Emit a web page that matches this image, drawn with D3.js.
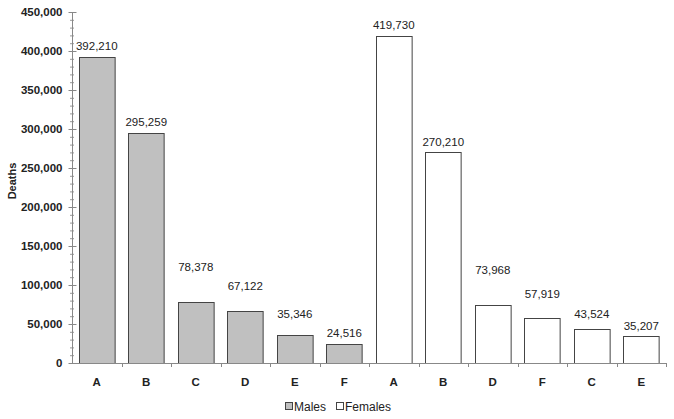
<!DOCTYPE html>
<html>
<head>
<meta charset="utf-8">
<script src="https://cdn.jsdelivr.net/npm/d3@7"></script>
<style>
  body { margin: 0; background: #fff; }
  text { font-family: "Liberation Sans", Arial, sans-serif; fill: #222; }
</style>
</head>
<body>
<div id="chart"></div>
<script>
// data
const categories = ['A', 'B', 'C', 'D', 'E', 'F', 'A', 'B', 'D', 'F', 'C', 'E'];
const groups = ['Males', 'Males', 'Males', 'Males', 'Males', 'Males',
                'Females', 'Females', 'Females', 'Females', 'Females', 'Females'];
const deaths = [392210, 295259, 78378, 67122, 35346, 24516,
                419730, 270210, 73968, 57919, 43524, 35207];
const yTicks = [0, 50000, 100000, 150000, 200000, 250000, 300000, 350000, 400000, 450000];
const legendItems = ['Males', 'Females'];

// label lift above bar tops (px), labels were hand placed in the original
const labelLift = [10.7, 10.6, 35.3, 25, 21, 11.3, 10.7, 10.7, 35.7, 24.3, 15.3, 10];

const W = 674, H = 419;
const margin = { left: 72, right: 8, top: 12, bottom: 56 };
const fill = { Males: '#c0c0c0', Females: '#ffffff' };

const svg = d3.select('#chart').append('svg')
  .attr('width', W).attr('height', H);

const rows = deaths.map((v, i) => ({ i, cat: categories[i], group: groups[i], v }));

const x = d3.scaleBand()
  .domain(d3.range(rows.length))
  .range([margin.left, 666])
  .paddingInner(0.28).paddingOuter(0.14);
const y = d3.scaleLinear().domain([0, 450000]).range([363, margin.top]);

// minor ticks on y axis
svg.append('g')
  .selectAll('line')
  .data(d3.range(0, 450001, 10000).filter(v => v % 50000))
  .enter().append('line')
  .attr('x1', 70).attr('x2', 74)
  .attr('y1', d => y(d) + 0.5).attr('y2', d => y(d) + 0.5)
  .style('stroke', '#999');

// y axis
const yAxis = svg.append('g')
  .attr('transform', 'translate(72.5,0)')
  .call(d3.axisLeft(y).tickValues(yTicks).tickSize(4).tickPadding(6)
    .tickFormat(d3.format(',')));
yAxis.select('.domain').attr('d', `M0,${y(450000)}V${y(0)}`).style('stroke', '#888');
yAxis.selectAll('.tick line').attr('x2', 4).attr('x1', -4).style('stroke', '#888');
yAxis.selectAll('.tick text')
  .style('font-size', '11.5px').style('font-weight', 'bold')
  .style('font-family', '"Liberation Sans", Arial, sans-serif').style('fill', '#222');

// bars
svg.append('g')
  .selectAll('rect')
  .data(rows)
  .enter().append('rect')
  .attr('x', d => Math.round(x(d.i)) + 0.5)
  .attr('y', d => Math.round(y(d.v)) + 0.5)
  .attr('width', x.bandwidth())
  .attr('height', d => y(0) - Math.round(y(d.v)))
  .style('fill', d => fill[d.group])
  .style('stroke', '#444')
  .style('stroke-width', 1);

// x axis baseline + ticks between categories
svg.append('line')
  .attr('x1', 72).attr('x2', 666)
  .attr('y1', 363.5).attr('y2', 363.5)
  .style('stroke', '#888');
const step = x.step();
svg.append('g')
  .selectAll('line')
  .data(d3.range(1, rows.length + 1))
  .enter().append('line')
  .attr('x1', d => Math.round(72 + d * step) + 0.5)
  .attr('x2', d => Math.round(72 + d * step) + 0.5)
  .attr('y1', 363).attr('y2', 367)
  .style('stroke', '#888');

// category labels
svg.append('g')
  .selectAll('text')
  .data(rows)
  .enter().append('text')
  .attr('x', d => x(d.i) + x.bandwidth() / 2)
  .attr('y', 386)
  .attr('text-anchor', 'middle')
  .style('font-size', '11.5px')
  .style('font-weight', 'bold')
  .text(d => d.cat);

// value labels
svg.append('g')
  .selectAll('text')
  .data(rows)
  .enter().append('text')
  .attr('x', d => x(d.i) + x.bandwidth() / 2)
  .attr('y', d => y(d.v) - labelLift[d.i])
  .attr('dy', '0.35em')
  .attr('text-anchor', 'middle')
  .style('font-size', '11.5px')
  .text(d => d3.format(',')(d.v));

// y title
svg.append('text')
  .attr('transform', 'translate(16,181) rotate(-90)')
  .attr('text-anchor', 'middle')
  .style('font-size', '11px')
  .style('font-weight', 'bold')
  .text('Deaths');

// legend
const lg = svg.append('g').attr('transform', 'translate(285,407)');
const lx = [0, 51];
legendItems.forEach((k, i) => {
  lg.append('rect')
    .attr('x', lx[i] + 0.5).attr('y', -4.5)
    .attr('width', 7).attr('height', 7)
    .style('fill', fill[k]).style('stroke', '#444');
  lg.append('text')
    .attr('x', lx[i] + 9).attr('y', 0)
    .attr('dy', '0.35em')
    .style('font-size', '12px')
    .text(k);
});
</script>
</body>
</html>
